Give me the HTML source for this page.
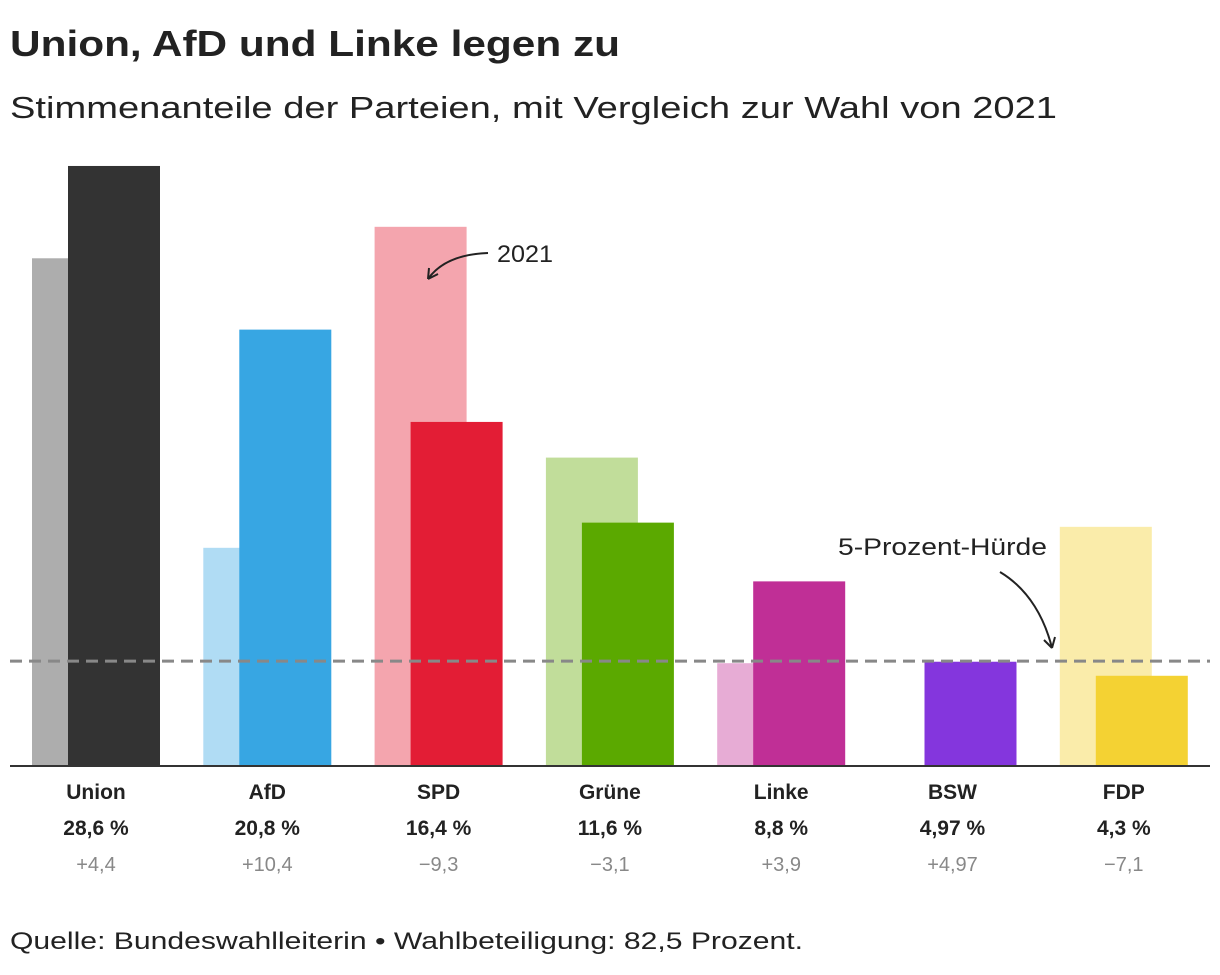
<!DOCTYPE html>
<html><head><meta charset="utf-8"><style>
body{margin:0;background:#fff;font-family:"Liberation Sans",sans-serif;color:#222}
</style></head><body>
<svg width="1220" height="970" xmlns="http://www.w3.org/2000/svg" font-family="Liberation Sans, sans-serif">
<text x="10" y="56" font-size="36" font-weight="bold" fill="#222" textLength="610" lengthAdjust="spacingAndGlyphs">Union, AfD und Linke legen zu</text>
<text x="10" y="118" font-size="31" fill="#222" textLength="1047" lengthAdjust="spacingAndGlyphs">Stimmenanteile der Parteien, mit Vergleich zur Wahl von 2021</text>
<g id="bars"></g>
<line x1="10" x2="1210" y1="766" y2="766" stroke="#333" stroke-width="2"/>
<line id="thresh" x1="10" x2="1210" stroke="#888" stroke-width="3" stroke-dasharray="12 7"/>
<text x="497" y="262" font-size="24" fill="#222" textLength="56" lengthAdjust="spacingAndGlyphs">2021</text>
<path d="M488,253 C460,254 440,262 428,279" fill="none" stroke="#222" stroke-width="2"/>
<path d="M428,279 l1,-11 M428,279 l10,-5" fill="none" stroke="#222" stroke-width="2"/>
<text x="838" y="555" font-size="24" fill="#222" textLength="209" lengthAdjust="spacingAndGlyphs">5-Prozent-Hürde</text>
<path d="M1000,572 C1030,590 1045,620 1052,648" fill="none" stroke="#222" stroke-width="2"/>
<path d="M1052,648 l-8,-8 M1052,648 l3,-11" fill="none" stroke="#222" stroke-width="2"/>
<g id="labels"></g>
<text x="10" y="949" font-size="24" fill="#222" textLength="793" lengthAdjust="spacingAndGlyphs">Quelle: Bundeswahlleiterin • Wahlbeteiligung: 82,5 Prozent.</text>
</svg>
<script>
const parties=["Union","AfD","SPD","Grüne","Linke","BSW","FDP"];
const values2025=[28.6,20.8,16.4,11.6,8.8,4.97,4.3];
const values2021=[24.2,10.4,25.7,14.7,4.9,0,11.4];
const valueLabels=["28,6 %","20,8 %","16,4 %","11,6 %","8,8 %","4,97 %","4,3 %"];
const changeLabels=["+4,4","+10,4","−9,3","−3,1","+3,9","+4,97","−7,1"];
const threshold=5;
const colors2025=["#333333","#37a6e3","#e31d35","#5ba900","#c02f96","#8436dd","#f4d233"];
const colors2021=["#adadad","#b0dcf4","#f4a5ae","#c1dd9a","#e7acd5","#d8c0f2","#faecaa"];
const base=766,scale=20.98;
const y=v=>base-v*scale;
const cx=i=>96+i*171.3;
const NS="http://www.w3.org/2000/svg";
const bars=document.getElementById('bars'),labels=document.getElementById('labels');
function rect(x,v,c,n){const r=document.createElementNS(NS,'rect');
r.setAttribute('x',x);r.setAttribute('y',y(v));r.setAttribute('width',92);r.setAttribute('height',Math.max(0,base-y(v)));r.setAttribute('fill',c);


bars.appendChild(r);}
function txt(x,yy,s,w,c,sz,n){const t=document.createElementNS(NS,'text');
t.setAttribute('x',x);t.setAttribute('y',yy);t.setAttribute('text-anchor','middle');t.setAttribute('font-size',sz);t.setAttribute('font-weight',w);t.setAttribute('fill',c);t.textContent=s;


labels.appendChild(t);}
parties.forEach((p,i)=>{
 rect(cx(i)-64,values2021[i],colors2021[i],'bar-2021-'+i);
 rect(cx(i)-28,values2025[i],colors2025[i],'bar-2025-'+i);
 txt(cx(i),799,p,'bold','#222',21,'party-label');
 txt(cx(i),835,valueLabels[i],'bold','#222',21,'value-label');
 txt(cx(i),871,changeLabels[i],'normal','#888',20,'change-label');
});
const th=document.getElementById('thresh');th.setAttribute('y1',y(threshold));th.setAttribute('y2',y(threshold));
</script>
</body></html>
